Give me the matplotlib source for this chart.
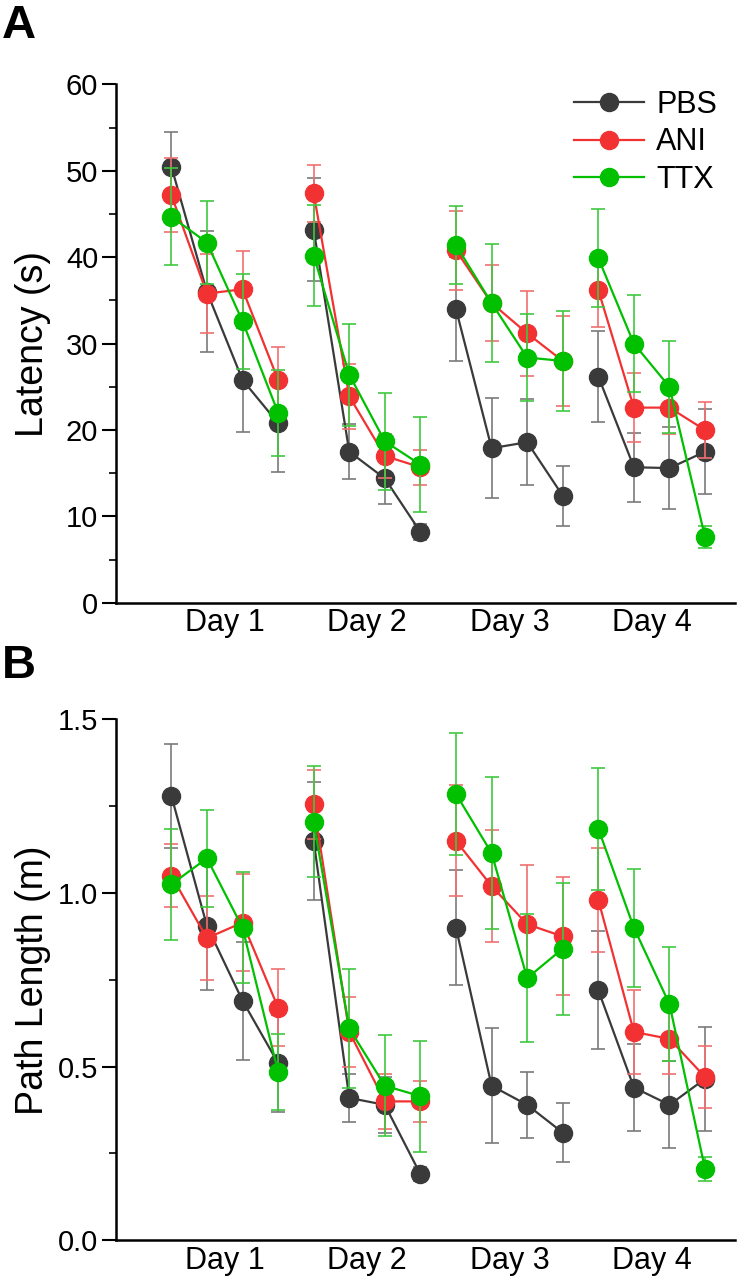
import matplotlib.pyplot as plt
import numpy as np

plt.rcParams['font.family'] = ['Liberation Sans', 'DejaVu Sans']

days = ['Day 1', 'Day 2', 'Day 3', 'Day 4']
groups = ['PBS', 'ANI', 'TTX']
colors = {'PBS': '#3a3a3a', 'ANI': '#f23232', 'TTX': '#00c000'}
err_colors = {'PBS': '#7a7a7a', 'ANI': '#f07070', 'TTX': '#40c840'}

# Panel A: latency (s), 4 trials per day
lat_pbs = [50.5, 36.0, 25.8, 20.8, 43.2, 17.5, 14.4, 8.2, 34.0, 17.9, 18.6, 12.4, 26.2, 15.7, 15.6, 17.5]
lat_pbs_err = [4.0, 7.0, 6.0, 5.6, 6.0, 3.2, 3.0, 0.9, 6.0, 5.8, 5.0, 3.5, 5.3, 4.0, 4.7, 4.9]
lat_ani = [47.2, 35.8, 36.3, 25.8, 47.4, 23.9, 17.0, 15.7, 40.8, 34.7, 31.2, 28.0, 36.2, 22.6, 22.6, 20.0]
lat_ani_err = [4.3, 4.6, 4.4, 3.8, 3.3, 3.8, 2.5, 2.0, 4.6, 4.4, 4.9, 5.2, 4.3, 4.0, 3.0, 3.2]
lat_ttx = [44.7, 41.7, 32.6, 22.0, 40.2, 26.4, 18.7, 16.0, 41.4, 34.7, 28.4, 28.0, 39.9, 30.0, 25.0, 7.6]
lat_ttx_err = [5.6, 4.8, 5.5, 5.0, 5.8, 5.9, 5.6, 5.5, 4.5, 6.8, 5.0, 5.8, 5.7, 5.6, 5.3, 1.3]

# Panel B: path length (m)
path_pbs = [1.28, 0.905, 0.69, 0.51, 1.15, 0.41, 0.39, 0.19, 0.90, 0.445, 0.39, 0.31, 0.72, 0.44, 0.39, 0.465]
path_pbs_err = [0.15, 0.185, 0.17, 0.14, 0.17, 0.07, 0.08, 0.02, 0.165, 0.165, 0.095, 0.085, 0.17, 0.125, 0.125, 0.15]
path_ani = [1.05, 0.87, 0.915, 0.67, 1.255, 0.60, 0.40, 0.40, 1.15, 1.02, 0.91, 0.875, 0.98, 0.60, 0.58, 0.47]
path_ani_err = [0.09, 0.12, 0.14, 0.11, 0.10, 0.10, 0.08, 0.06, 0.16, 0.16, 0.17, 0.17, 0.15, 0.12, 0.10, 0.09]
path_ttx = [1.025, 1.10, 0.90, 0.485, 1.205, 0.61, 0.445, 0.415, 1.285, 1.115, 0.755, 0.84, 1.185, 0.90, 0.68, 0.205]
path_ttx_err = [0.16, 0.14, 0.16, 0.11, 0.16, 0.17, 0.145, 0.16, 0.175, 0.22, 0.185, 0.19, 0.175, 0.17, 0.165, 0.035]

lat = {'PBS': (lat_pbs, lat_pbs_err), 'ANI': (lat_ani, lat_ani_err), 'TTX': (lat_ttx, lat_ttx_err)}
path = {'PBS': (path_pbs, path_pbs_err), 'ANI': (path_ani, path_ani_err), 'TTX': (path_ttx, path_ttx_err)}

x = np.arange(1, 17)


def draw_panel(ax, data, ylim, major, minor, ylabel, fmt):
    for k, g in enumerate(groups):
        vals, errs = data[g]
        vals = np.array(vals)
        errs = np.array(errs)
        ax.errorbar(x, vals, yerr=errs, fmt='none', ecolor=err_colors[g],
                    elinewidth=1.2, capsize=5, capthick=1.2, zorder=2 + k)
        for d in range(4):
            sl = slice(4 * d, 4 * d + 4)
            ax.plot(x[sl], vals[sl], '-o', color=colors[g], lw=1.6, ms=13,
                    mec=colors[g], zorder=3 + k, label=g if d == 0 else None)
    ax.set_xlim(-0.55, 16.85)
    ax.set_ylim(*ylim)
    ax.set_yticks(major)
    ax.set_yticks(minor, minor=True)
    ax.set_yticklabels([fmt.format(v) for v in major])
    ax.set_xticks([2.5, 6.5, 10.5, 14.5])
    ax.set_xticklabels(days)
    ax.tick_params(axis='x', length=0, labelsize=22, pad=4)
    ax.tick_params(axis='y', which='major', length=10, width=1.5, labelsize=21,
                   direction='out', pad=3)
    ax.tick_params(axis='y', which='minor', length=5, width=1.2, direction='out')
    for s in ['top', 'right']:
        ax.spines[s].set_visible(False)
    for s in ['left', 'bottom']:
        ax.spines[s].set_linewidth(1.8)
    ax.set_ylabel(ylabel, fontsize=27)
    ax.yaxis.set_label_coords(-0.105, 0.5)


fig = plt.figure(figsize=(7.45, 12.8), dpi=100)
axA = fig.add_axes([0.156, 0.529, 0.831, 0.405])
axB = fig.add_axes([0.156, 0.031, 0.831, 0.407])

draw_panel(axA, lat, (0, 60), np.arange(0, 61, 10), np.arange(5, 60, 10), 'Latency (s)', '{:.0f}')
draw_panel(axB, path, (0, 1.5), [0.0, 0.5, 1.0, 1.5], [0.25, 0.75, 1.25], 'Path Length (m)', '{:.1f}')

axA.legend(loc='upper right', bbox_to_anchor=(1.0, 1.025), frameon=False, fontsize=22,
           handlelength=2.3, handletextpad=0.4, labelspacing=0.25, borderaxespad=0.2)

fig.text(0.002, 0.997, 'A', fontsize=34, fontweight='bold', va='top', ha='left')
fig.text(0.002, 0.497, 'B', fontsize=34, fontweight='bold', va='top', ha='left')

fig.savefig('out.png', dpi=100)
